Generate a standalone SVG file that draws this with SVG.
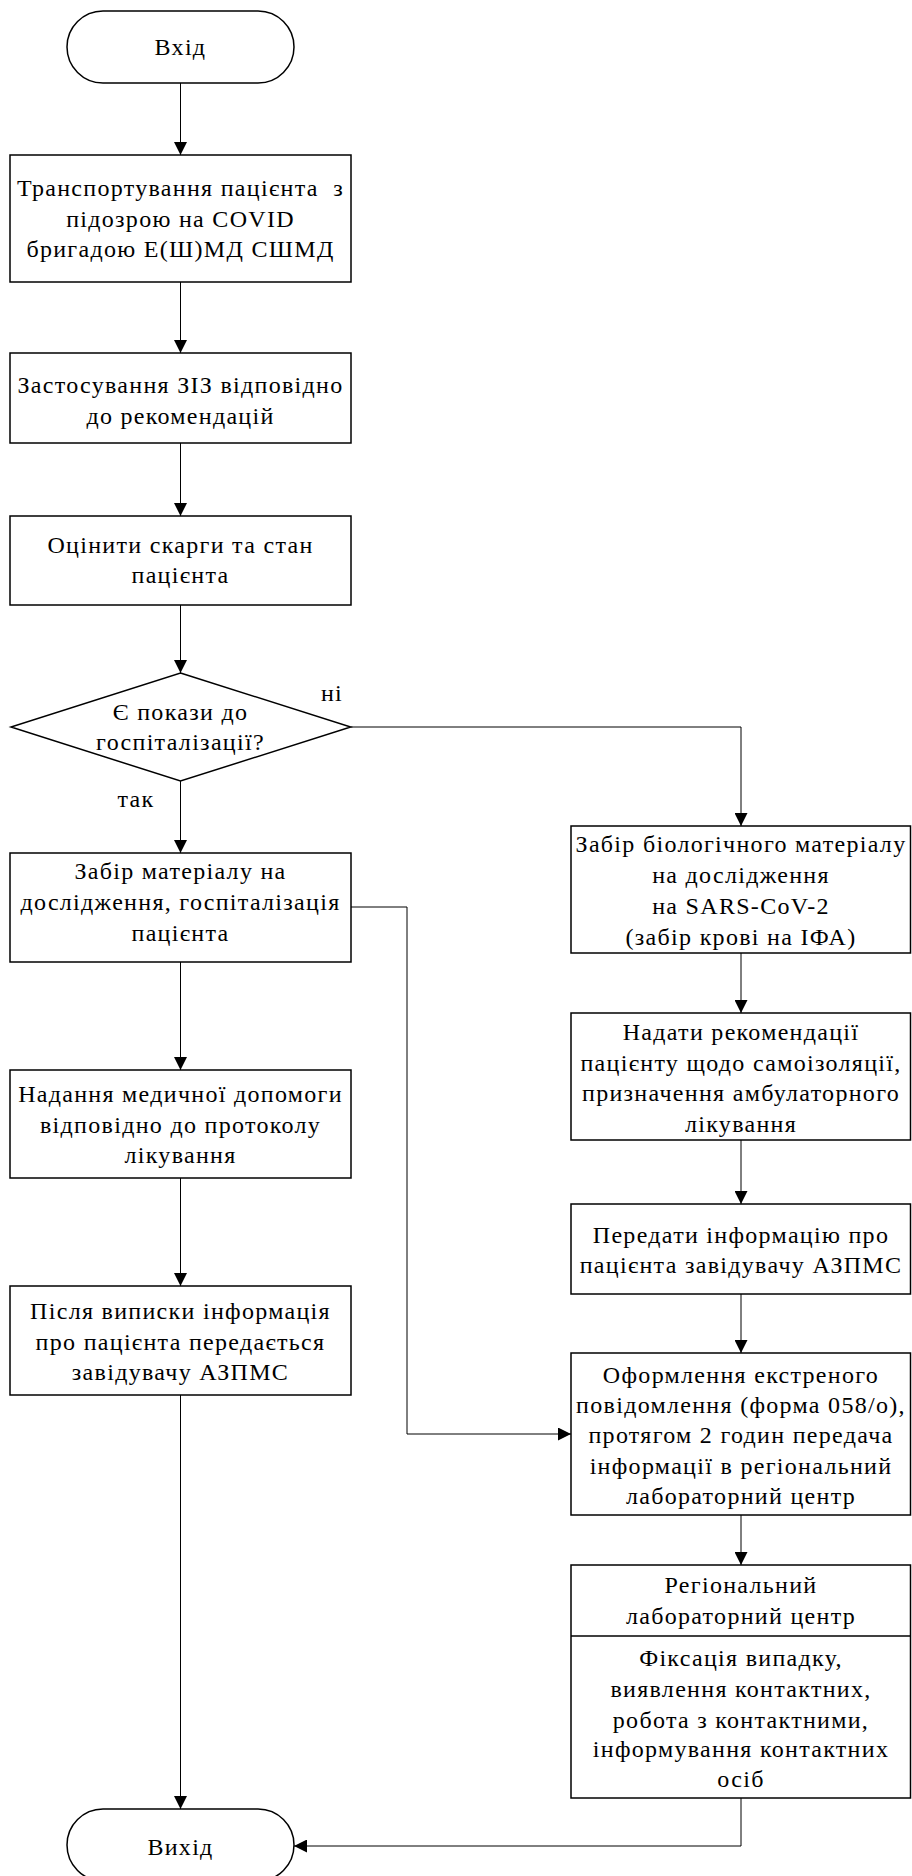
<svg xmlns="http://www.w3.org/2000/svg" width="912" height="1876" viewBox="0 0 912 1876">
<style>
.n{fill:#fff;stroke:#000;stroke-width:1.5}
.t{font-family:"Liberation Serif","Times New Roman",serif;font-size:24px;letter-spacing:1.3px;text-anchor:middle;fill:#000}
.c{fill:none;stroke:#000;stroke-width:1}
</style>
<defs>
<marker id="a" markerUnits="userSpaceOnUse" markerWidth="13" markerHeight="13" refX="13" refY="6.5" orient="auto">
<path d="M0,0 L13,6.5 L0,13 z" fill="#000"/>
</marker>
</defs>
<rect width="912" height="1876" fill="#fff"/>
<g id="connectors">
<path class="c" d="M180.5,83 V155" marker-end="url(#a)"/>
<path class="c" d="M180.5,282 V353" marker-end="url(#a)"/>
<path class="c" d="M180.5,443 V516" marker-end="url(#a)"/>
<path class="c" d="M180.5,605 V673" marker-end="url(#a)"/>
<path class="c" d="M180.5,781 V853" marker-end="url(#a)"/>
<path class="c" d="M350.7,727 H741 V826" marker-end="url(#a)"/>
<path class="c" d="M351,907 H407 V1434 H571" marker-end="url(#a)"/>
<path class="c" d="M180.5,962 V1070" marker-end="url(#a)"/>
<path class="c" d="M180.5,1178 V1286" marker-end="url(#a)"/>
<path class="c" d="M180.5,1395 V1809" marker-end="url(#a)"/>
<path class="c" d="M741,953 V1013" marker-end="url(#a)"/>
<path class="c" d="M741,1140 V1204" marker-end="url(#a)"/>
<path class="c" d="M741,1294 V1353" marker-end="url(#a)"/>
<path class="c" d="M741,1515 V1565" marker-end="url(#a)"/>
<path class="c" d="M741,1798 V1846 H294" marker-end="url(#a)"/>
<text class="t" x="332" y="701">ні</text>
<text class="t" x="136" y="807">так</text>
</g>
<g id="start">
<rect class="n" x="67" y="11" width="227" height="72" rx="36"/>
<text class="t" x="180.5" y="55">Вхід</text>
</g>
<g id="transport">
<rect class="n" x="10" y="155" width="341" height="127"/>
<text class="t" x="180.5" y="196" xml:space="preserve">Транспортування пацієнта  з</text>
<text class="t" x="180.5" y="227">підозрою на COVID</text>
<text class="t" x="180.5" y="257">бригадою Е(Ш)МД СШМД</text>
</g>
<g id="ppe">
<rect class="n" x="10" y="353" width="341" height="90"/>
<text class="t" x="180.5" y="393">Застосування ЗІЗ відповідно</text>
<text class="t" x="180.5" y="424">до рекомендацій</text>
</g>
<g id="assess">
<rect class="n" x="10" y="516" width="341" height="89"/>
<text class="t" x="180.5" y="553">Оцінити скарги та стан</text>
<text class="t" x="180.5" y="583">пацієнта</text>
</g>
<g id="decision">
<polygon class="n" points="180.5,673 350.7,727 180.5,781 11,727"/>
<text class="t" x="180.5" y="720">Є покази до</text>
<text class="t" x="180.5" y="750">госпіталізації?</text>
</g>
<g id="hosp">
<rect class="n" x="10" y="853" width="341" height="109"/>
<text class="t" x="180.5" y="879">Забір матеріалу на</text>
<text class="t" x="180.5" y="910">дослідження, госпіталізація</text>
<text class="t" x="180.5" y="941">пацієнта</text>
</g>
<g id="care">
<rect class="n" x="10" y="1070" width="341" height="108"/>
<text class="t" x="180.5" y="1102">Надання медичної допомоги</text>
<text class="t" x="180.5" y="1133">відповідно до протоколу</text>
<text class="t" x="180.5" y="1163">лікування</text>
</g>
<g id="discharge">
<rect class="n" x="10" y="1286" width="341" height="109"/>
<text class="t" x="180.5" y="1319">Після виписки інформація</text>
<text class="t" x="180.5" y="1350">про пацієнта передається</text>
<text class="t" x="180.5" y="1380">завідувачу АЗПМС</text>
</g>
<g id="end">
<rect class="n" x="67" y="1809" width="227" height="72" rx="36"/>
<text class="t" x="180.5" y="1855">Вихід</text>
</g>
<g id="sample">
<rect class="n" x="571" y="826" width="339.5" height="127"/>
<text class="t" x="741" y="852">Забір біологічного матеріалу</text>
<text class="t" x="741" y="883">на дослідження</text>
<text class="t" x="741" y="914">на SARS-CoV-2</text>
<text class="t" x="741" y="945">(забір крові на ІФА)</text>
</g>
<g id="recommend">
<rect class="n" x="571" y="1013" width="339.5" height="127"/>
<text class="t" x="741" y="1040">Надати рекомендації</text>
<text class="t" x="741" y="1071">пацієнту щодо самоізоляції,</text>
<text class="t" x="741" y="1101">призначення амбулаторного</text>
<text class="t" x="741" y="1132">лікування</text>
</g>
<g id="inform">
<rect class="n" x="571" y="1204" width="339.5" height="90"/>
<text class="t" x="741" y="1243">Передати інформацію про</text>
<text class="t" x="741" y="1273">пацієнта завідувачу АЗПМС</text>
</g>
<g id="report">
<rect class="n" x="571" y="1353" width="339.5" height="162"/>
<text class="t" x="741" y="1383">Оформлення екстреного</text>
<text class="t" x="741" y="1413">повідомлення (форма 058/о),</text>
<text class="t" x="741" y="1443">протягом 2 годин передача</text>
<text class="t" x="741" y="1474">інформації в регіональний</text>
<text class="t" x="741" y="1504">лабораторний центр</text>
</g>
<g id="lab">
<rect class="n" x="571" y="1565" width="339.5" height="233"/>
<line class="n" x1="571" y1="1636" x2="910.5" y2="1636"/>
<text class="t" x="741" y="1593">Регіональний</text>
<text class="t" x="741" y="1624">лабораторний центр</text>
<text class="t" x="741" y="1666">Фіксація випадку,</text>
<text class="t" x="741" y="1697">виявлення контактних,</text>
<text class="t" x="741" y="1728">робота з контактними,</text>
<text class="t" x="741" y="1757">інформування контактних</text>
<text class="t" x="741" y="1787">осіб</text>
</g>
</svg>
